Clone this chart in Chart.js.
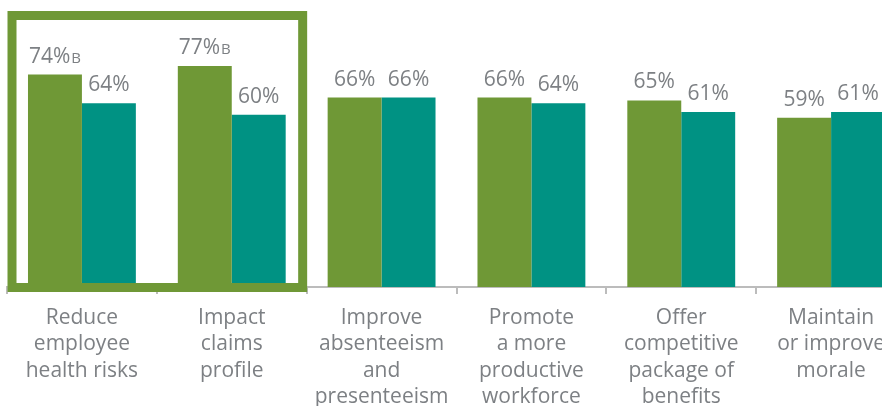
<!DOCTYPE html>
<html><head><meta charset="utf-8">
<script src="https://cdn.jsdelivr.net/npm/chart.js@4.4.1/dist/chart.umd.min.js"></script>
<style>
html,body{margin:0;padding:0;background:#fff;overflow:hidden;}
#wrap{position:absolute;left:0;top:0;width:906px;height:414px;}
</style></head><body>
<div id="wrap"><canvas id="c"></canvas></div>
<script>
const categories = [
  ["Reduce","employee","health risks"],
  ["Impact","claims","profile"],
  ["Improve","absenteeism","and","presenteeism"],
  ["Promote","a more","productive","workforce"],
  ["Offer","competitive","package of","benefits"],
  ["Maintain","or improve","morale"]
];
const seriesA = [74,77,66,66,65,59];
const seriesB = [64,60,66,64,61,61];
const notesA = ["B","B","","","",""];
const notesB = ["","","","","",""];
const highlighted = [0,1];

const GREEN = '#6f9836';
const TEAL = '#009283';
const TEXT = '#7d8084';
const AXIS = '#bcbcbc';
const FONT = "'Open Sans', sans-serif";

const valueLabels = {
  id: 'valueLabels',
  afterDatasetsDraw(chart) {
    const ctx = chart.ctx;
    const notes = [notesA, notesB];
    chart.data.datasets.forEach((ds, di) => {
      const meta = chart.getDatasetMeta(di);
      meta.data.forEach((bar, i) => {
        const main = ds.data[i] + '%';
        const note = notes[di][i];
        ctx.save();
        ctx.textBaseline = 'alphabetic';
        ctx.textAlign = 'left';
        ctx.font = '21px ' + FONT;
        const wMain = ctx.measureText(main).width;
        ctx.font = '15px ' + FONT;
        const wNote = note ? ctx.measureText(note).width + 1 : 0;
        const start = bar.x - (wMain + wNote) / 2;
        const yy = bar.y - 12;
        ctx.fillStyle = TEXT;
        ctx.font = '21px ' + FONT;
        ctx.fillText(main, start, yy);
        if (note) {
          ctx.font = '15px ' + FONT;
          ctx.fillText(note, start + wMain + 1, yy);
        }
        ctx.restore();
      });
    });
  }
};

const highlightBox = {
  id: 'highlightBox',
  afterDraw(chart) {
    const x = chart.scales.x, y = chart.scales.y;
    const first = highlighted[0], last = highlighted[highlighted.length - 1];
    const half = (x.getPixelForValue(1) - x.getPixelForValue(0)) / 2;
    const left = x.getPixelForValue(first) - half + 5;
    const right = x.getPixelForValue(last) + half - 4;
    const top = 15.5;
    const bottom = y.getPixelForValue(0) + 0.5;
    const ctx = chart.ctx;
    ctx.save();
    ctx.strokeStyle = GREEN;
    ctx.lineWidth = 9;
    ctx.strokeRect(left, top, right - left, bottom - top);
    ctx.restore();
  }
};

new Chart(document.getElementById('c'), {
  type: 'bar',
  data: {
    labels: categories,
    datasets: [
      { label: 'Series A', data: seriesA, backgroundColor: GREEN, borderWidth: 0 },
      { label: 'Series B', data: seriesB, backgroundColor: TEAL, borderWidth: 0 }
    ]
  },
  options: {
    responsive: true,
    maintainAspectRatio: false,
    animation: false,
    devicePixelRatio: 1,
    layout: { padding: { left: 7, right: 0, top: 0, bottom: 0 } },
    plugins: { legend: { display: false }, tooltip: { enabled: false } },
    datasets: { bar: { categoryPercentage: 0.72, barPercentage: 1.0 } },
    scales: {
      x: {
        afterFit(scale) { scale.height = 127; },
        grid: { drawOnChartArea: false, drawTicks: true, tickLength: 7, color: AXIS, lineWidth: 2 },
        border: { display: true, color: AXIS, width: 2 },
        ticks: { color: TEXT, font: { family: FONT, size: 21, lineHeight: 1.25 }, padding: 11, maxRotation: 0, autoSkip: false }
      },
      y: { display: false, min: 0, max: 100 }
    }
  },
  plugins: [valueLabels, highlightBox]
});
</script>
</body></html>
